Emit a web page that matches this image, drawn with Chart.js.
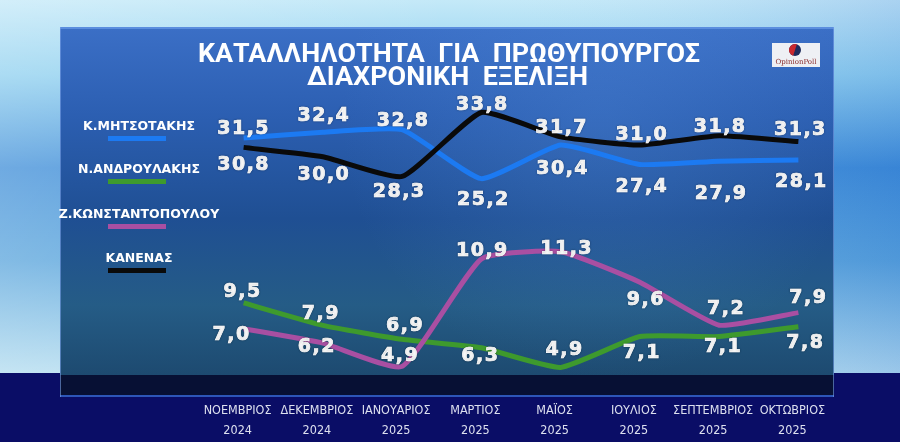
<!DOCTYPE html>
<html><head><meta charset="utf-8">
<script src="https://cdn.jsdelivr.net/npm/chart.js@4.4.1/dist/chart.umd.min.js"></script>
<style>
html,body{margin:0;padding:0;background:#0b0f6a;overflow:hidden}
#wrap{position:relative;width:900px;height:442px}
canvas{display:block}
</style></head>
<body><div id="wrap"><canvas id="c" width="900" height="442"></canvas></div>
<script>
// ---- data ----
const monthNames = ['ΝΟΕΜΒΡΙΟΣ','ΔΕΚΕΜΒΡΙΟΣ','ΙΑΝΟΥΑΡΙΟΣ','ΜΑΡΤΙΟΣ','ΜΑΪΟΣ','ΙΟΥΛΙΟΣ','ΣΕΠΤΕΜΒΡΙΟΣ','ΟΚΤΩΒΡΙΟΣ'];
const years = ['2024','2024','2025','2025','2025','2025','2025','2025'];
const seriesNames = ['Κ.ΜΗΤΣΟΤΑΚΗΣ','Ν.ΑΝΔΡΟΥΛΑΚΗΣ','Ζ.ΚΩΝΣΤΑΝΤΟΠΟΥΛΟΥ','ΚΑΝΕΝΑΣ'];
const mitsotakis      = [31.5, 32.4, 32.8, 25.2, 30.4, 27.4, 27.9, 28.1];
const androulakis     = [9.5, 7.9, 6.9, 6.3, 4.9, 7.1, 7.1, 7.8];
const konstantopoulou = [7.0, 6.2, 4.9, 10.9, 11.3, 9.6, 7.2, 7.9];
const kanenas         = [30.8, 30.0, 28.3, 33.8, 31.7, 31.0, 31.8, 31.3];
const chartTitle = ['ΚΑΤΑΛΛΗΛΟΤΗΤΑ  ΓΙΑ  ΠΡΩΘΥΠΟΥΡΓΟΣ', 'ΔΙΑΧΡΟΝΙΚΗ  ΕΞΕΛΙΞΗ'];

// ---- styles (label placement offsets, px) ----
const labelDx = {
  blue:  [-1, 0, 0, 1, 1, 1, 1, 2],
  black: [-1, 0, -4, 0, 0, 1, 0, 1],
  green: [-2, -3, 2, -2, 3, 1, 3, 6],
  pink:  [-13, -7, -3, 0, 5, 5, 6, 9]
};
const labelDy = {
  blue:  [-11, -18, -11, 19, 22, 21, 31, 20],
  black: [16, 16, 14, -9, -11, -12, -11, -14],
  green: [-13, -13, -15, 6, -19, 14, 8, 14],
  pink:  [4, 2, -12, -10, -5, 16, -18, -17]
};

const labels = monthNames.map((m, i) => [m, years[i]]);

const backdrop = {
  id: 'backdrop',
  beforeDraw(chart) {
    const ctx = chart.ctx, W = chart.width, H = chart.height;
    ctx.save();
    let g = ctx.createLinearGradient(0, 0, 0, 373);
    g.addColorStop(0, '#c4e9f8');
    g.addColorStop(0.2, '#8fd0ef');
    g.addColorStop(0.45, '#3f8ed8');
    g.addColorStop(0.7, '#5aa5dc');
    g.addColorStop(1, '#b2dcef');
    ctx.fillStyle = g;
    ctx.fillRect(0, 0, W, 373);
    let g2 = ctx.createLinearGradient(0, 0, W, 0);
    g2.addColorStop(0, 'rgba(255,255,255,0.25)');
    g2.addColorStop(0.5, 'rgba(255,255,255,0)');
    g2.addColorStop(1, 'rgba(20,80,200,0.15)');
    ctx.fillStyle = g2;
    ctx.fillRect(0, 0, W, 373);
    ctx.fillStyle = '#0a0d66';
    ctx.fillRect(0, 373, W, H - 373);
    let pg = ctx.createLinearGradient(0, 27, 0, 375);
    pg.addColorStop(0, '#3b6fc6');
    pg.addColorStop(0.25, '#2c5fb2');
    pg.addColorStop(0.55, '#1f4f93');
    pg.addColorStop(0.8, '#255c86');
    pg.addColorStop(1, '#1d4a70');
    ctx.fillStyle = pg;
    ctx.fillRect(60, 27, 774, 348);
    let rg = ctx.createRadialGradient(600, 120, 10, 600, 120, 260);
    rg.addColorStop(0, 'rgba(90,150,230,0.25)');
    rg.addColorStop(1, 'rgba(90,150,230,0)');
    ctx.fillStyle = rg;
    ctx.fillRect(60, 27, 774, 348);
    ctx.fillStyle = 'rgba(8,16,48,0.92)';
    ctx.fillRect(60, 375, 774, 20);
    ctx.fillStyle = '#2d56b8';
    ctx.fillRect(60, 395, 774, 2);
    ctx.fillStyle = '#5b8ede';
    ctx.fillRect(60, 27, 774, 2);
    ctx.fillStyle = 'rgba(120,160,230,0.6)';
    ctx.fillRect(60, 27, 1, 370);
    ctx.fillRect(833, 27, 1, 370);
    ctx.restore();
  }
};

const decor = {
  id: 'decor',
  afterDraw(chart) {
    const ctx = chart.ctx;
    ctx.save();
    ctx.fillStyle = '#ffffff';
    ctx.textAlign = 'center';
    ctx.textBaseline = 'alphabetic';
    const tl = [
      {t: chartTitle[0], cx: 449, base: 61.7, w: 502},
      {t: chartTitle[1], cx: 447.5, base: 85, w: 281}
    ];
    ctx.font = 'bold 25px Roboto, "DejaVu Sans", sans-serif';
    tl.forEach(o => {
      const mw = ctx.measureText(o.t).width;
      ctx.save();
      ctx.translate(o.cx, o.base);
      ctx.scale(o.w / mw, 1);
      ctx.fillText(o.t, 0, 0);
      ctx.restore();
    });
    // logo
    ctx.fillStyle = '#eef0f4';
    ctx.fillRect(772, 43, 48, 24);
    ctx.beginPath(); ctx.arc(795, 50, 6, 0, Math.PI * 2); ctx.fillStyle = '#1e2b5c'; ctx.fill();
    ctx.beginPath(); ctx.arc(795, 50, 6, Math.PI * 0.6, Math.PI * 1.6); ctx.fillStyle = '#c9282e'; ctx.fill();
    ctx.fillStyle = '#8a2a2a';
    ctx.font = '7px "DejaVu Serif", serif';
    ctx.fillText('OpinionPoll', 796, 64);
    // legend
    const lx = 139, ys = [125, 168, 213, 257];
    chart.data.datasets.forEach((ds, i) => {
      ctx.fillStyle = '#ffffff';
      ctx.font = 'bold 12.5px "DejaVu Sans", sans-serif';
      ctx.textAlign = 'center';
      ctx.fillText(ds.label, lx, ys[i] + 5);
      ctx.fillStyle = ds.borderColor;
      ctx.fillRect(108, ys[i] + 11, 58, 5);
    });
    ctx.restore();
  }
};

const valueLabels = {
  id: 'valueLabels',
  afterDatasetsDraw(chart) {
    const ctx = chart.ctx;
    ctx.save();
    ctx.font = 'bold 19px "DejaVu Sans", sans-serif';
    ctx.fillStyle = '#ffffff';
    ctx.strokeStyle = '#ffffff';
    ctx.lineWidth = 0.7;
    ctx.textAlign = 'center';
    ctx.textBaseline = 'alphabetic';
    try { ctx.letterSpacing = '1.5px'; } catch (e) {}
    ctx.shadowColor = 'rgba(0,0,0,0.35)';
    ctx.shadowBlur = 2;
    chart.data.datasets.forEach((ds, di) => {
      const meta = chart.getDatasetMeta(di);
      meta.data.forEach((pt, i) => {
        const txt = ds.data[i].toFixed(1).replace('.', ',');
        const x = pt.x + labelDx[ds.key][i] + 1;
        const y = pt.y + labelDy[ds.key][i] + 7;
        ctx.fillText(txt, x, y);
        ctx.strokeText(txt, x, y);
      });
    });
    ctx.restore();
  }
};

new Chart(document.getElementById('c'), {
  type: 'line',
  data: {
    labels: labels,
    datasets: [
      {key: 'blue', label: seriesNames[0], data: mitsotakis, borderColor: '#1c7af2', yAxisID: 'yBlue', order: 3},
      {key: 'green', label: seriesNames[1], data: androulakis, borderColor: '#3e9a2d', yAxisID: 'yGreen', order: 4},
      {key: 'pink', label: seriesNames[2], data: konstantopoulou, borderColor: '#a94fa2', yAxisID: 'yPink', order: 2},
      {key: 'black', label: seriesNames[3], data: kanenas, borderColor: '#0a0a0a', yAxisID: 'yBlack', order: 1}
    ]
  },
  options: {
    responsive: false,
    animation: false,
    devicePixelRatio: 1,
    layout: {padding: {left: 204, right: 62, top: 95, bottom: 4}},
    elements: {
      line: {borderWidth: 5, tension: 0.15, fill: false, borderCapStyle: 'butt', borderJoinStyle: 'round'},
      point: {radius: 0, hoverRadius: 0}
    },
    datasets: {line: {clip: false}},
    plugins: {legend: {display: false}, tooltip: {enabled: false}, title: {display: false}},
    scales: {
      x: {
        type: 'category', offset: true,
        grid: {display: false}, border: {display: false},
        afterFit(scale) { scale.height = 58; },
        ticks: {
          color: '#dde0ef', autoSkip: false, maxRotation: 0, padding: 13.5, labelOffset: -6,
          font: {family: '"Liberation Sans Narrow", "DejaVu Sans Condensed", "Roboto Condensed", "Arial Narrow", sans-serif', size: 12.5, lineHeight: 1.55}
        }
      },
      yBlue:  {display: false, min: -6.03, max: 38.17},
      yBlack: {display: false, min: 10.81, max: 35.30},
      yGreen: {display: false, min: 4.00, max: 24.33},
      yPink:  {display: false, min: 4.14, max: 20.05}
    }
  },
  plugins: [backdrop, decor, valueLabels]
});
</script>
</body></html>
